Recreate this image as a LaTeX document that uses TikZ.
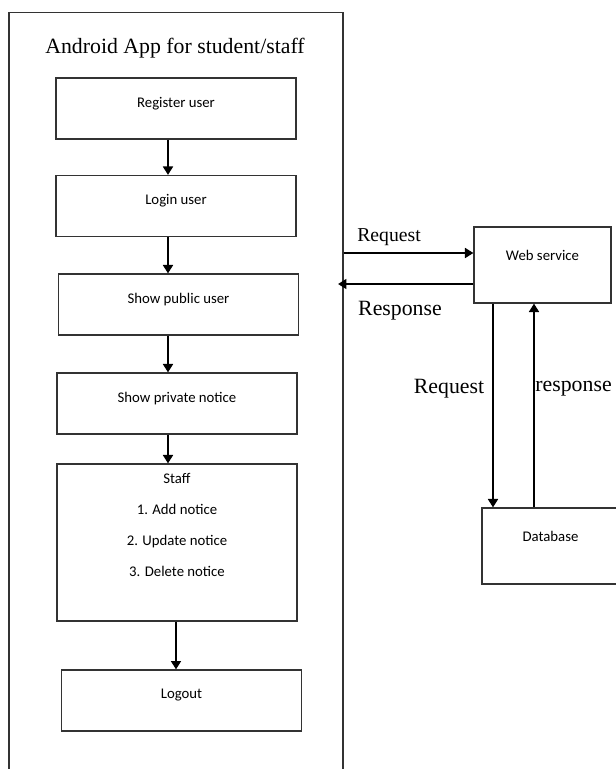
\documentclass[tikz,border=0pt]{standalone}
\usepackage{fontspec}
\setmainfont{Liberation Serif}
\newfontfamily\boxfont{Carlito}
\usetikzlibrary{arrows.meta}

\begin{document}
\begin{tikzpicture}[x=0.025cm,y=-0.025cm,line width=2pt,
    ->,>={Triangle[length=6pt,width=7pt]}]
    \tikzstyle{step box}=[draw=black!80,line width=0.8pt,rectangle,
        minimum width=6cm,minimum height=1.525cm,inner sep=0pt,
        font=\boxfont\fontsize{10.5}{12.5}\selectfont,text depth=9pt]
    \tikzstyle{side box}=[step box,minimum width=3.425cm,minimum height=1.9cm,
        text depth=13pt]
    \tikzstyle{annot}=[inner sep=0pt,font=\fontsize{15.5}{18}\selectfont]

    \useasboundingbox (0,0) rectangle (616,769);

    % Draw the app frame and its title
    \node[draw=black!80,line width=0.8pt,minimum width=8.35cm,minimum height=19.2cm,
        inner sep=0pt] (app) at (176,397) {};
    \node[annot] (title) at (175,48) {Android App for student/staff};

    % Draw the steps of the app
    \node[step box] (reg) at (176,108.5) {Register user};
    \node[step box] (login) at (176,206) {Login user};
    \node[step box] (public) at (178.5,304.5) {Show public user};
    \node[step box] (private) at (177,403.5) {Show private notice};
    \node[step box,minimum height=3.925cm,align=center,text depth=25pt] (staff) at (177,542.5)
        {Staff\\[9.5pt]1. Add notice\\[9.5pt]2. Update notice\\[9.5pt]3. Delete notice};
    \node[step box] (logout) at (181.5,700.5) {Logout};

    % Draw the server side
    \node[side box] (web) at (542.5,265) {Web service};
    \node[side box] (db) at (550.5,546) {Database};

    % Connect the steps
    \draw (reg.south -| 168,0) -- (login.north -| 168,0);
    \draw (login.south -| 168,0) -- (public.north -| 168,0);
    \draw (public.south -| 168,0) -- (private.north -| 168,0);
    \draw (private.south -| 168,0) -- (staff.north -| 168,0);
    \draw (staff.south -| 176,0) -- (logout.north -| 176,0);

    % Connect the app with the web service and the database
    \coordinate (back) at (338,284);
    \draw (app.east |- 0,253) -- (web.west |- 0,253);
    \draw (web.west |- back) -- (back);
    \draw (web.south -| 493,0) -- (db.north -| 493,0);
    \draw (db.north -| 534,0) -- (web.south -| 534,0);

    % Annotate the connectors
    \node[annot,font=\fontsize{14}{17}\selectfont] (req) at (389,237) {Request};
    \node[annot] (resp) at (400,311) {Response};
    \node[annot] (dbreq) at (449,389) {Request};
    \node[annot,anchor=west] (dbresp) at (534,389) {response};
\end{tikzpicture}
\end{document}
